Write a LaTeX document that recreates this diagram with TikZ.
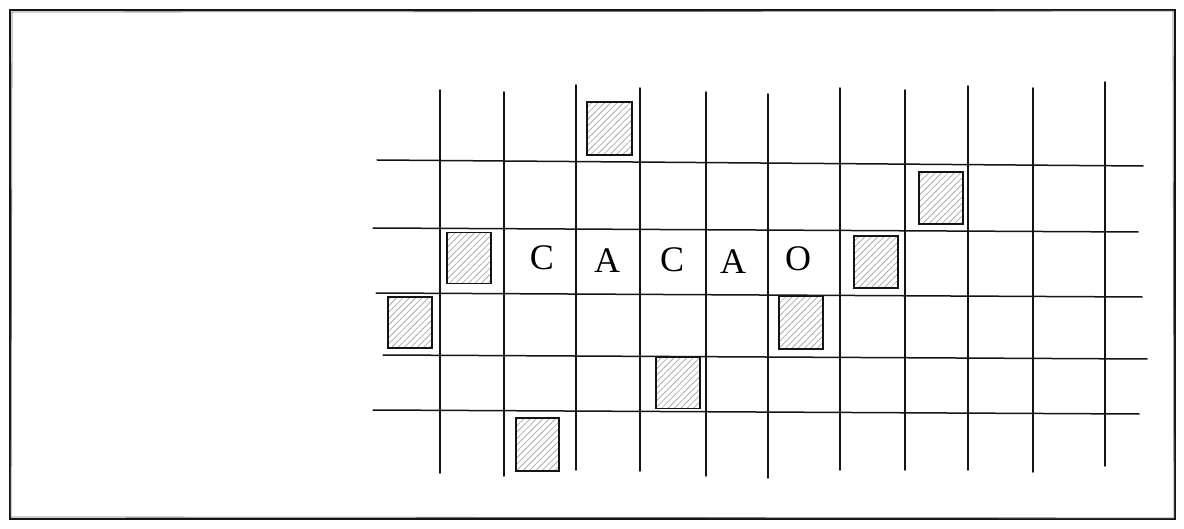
\documentclass[tikz,border=0pt]{standalone}
\usepackage{fontspec}
\setmainfont{Liberation Serif}
\usepackage{tikz}
\usetikzlibrary{patterns.meta}
\definecolor{gridink}{RGB}{20,20,20}
\definecolor{hatchgray}{RGB}{172,172,172}
\definecolor{framegray}{RGB}{120,120,120}
\tikzset{
  gridline/.style={
    draw=gridink,
    line width=1.5pt,
    line cap=round
  },
  framebox/.style={
    draw=gridink,
    line width=1.3pt
  },
  blockbox/.style={
    draw=gridink,
    line width=1.4pt,
    inner sep=0pt,
    minimum width=44pt,
    minimum height=52pt,
    pattern={Lines[angle=45, distance=4.5pt, line width=0.8pt]},
    pattern color=hatchgray
  },
  letter/.style={
    inner sep=0pt,
    font=\fontsize{36}{36}\selectfont
  }
}

\begin{document}
\begin{tikzpicture}[x=1pt, y=-1pt]
\useasboundingbox (0,0) rectangle (1184,529);

\draw[framebox] (10,10) rectangle (1175,519);
\draw[draw=framegray, line width=0.8pt] (12,12) -- (1173,11) -- (1174,518) -- (11,517) -- cycle;

\foreach \x/\ya/\yb in {440/90/473, 504/92/476, 576/85/470, 640/88/471,
    706/92/476, 768/94/478, 840/88/470, 905/90/470, 968/86/470,
    1033/88/472, 1105/82/466}
  \draw[gridline] (\x,\ya) -- (\x,\yb);

\foreach \xa/\ya/\xb/\yb in {377/160/1143/166, 373/228/1138/232,
    376/293/1142/297, 383/355/1147/359, 373/410/1139/414}
  \draw[gridline] (\xa,\ya) -- (\xb,\yb);

\node[blockbox, minimum width=45pt, minimum height=53pt] (b1) at (609.5,128.5) {};
\node[blockbox] (b2) at (941,198) {};
\node[blockbox, minimum height=51pt] (b3) at (469,258) {};
\node[blockbox] (b4) at (876,262) {};
\node[blockbox, minimum height=51pt] (b5) at (410,322.5) {};
\node[blockbox, minimum height=53pt] (b6) at (801,322.5) {};
\node[blockbox, minimum height=51pt] (b7) at (678,383) {};
\node[blockbox, minimum width=43pt, minimum height=53pt] (b8) at (537.5,444.5) {};

\node[letter] (l1) at (542,258) {C};
\node[letter] (l2) at (607,261) {A};
\node[letter] (l3) at (672,260) {C};
\node[letter] (l4) at (733,262) {A};
\node[letter] (l5) at (798,259) {O};
\end{tikzpicture}
\end{document}
